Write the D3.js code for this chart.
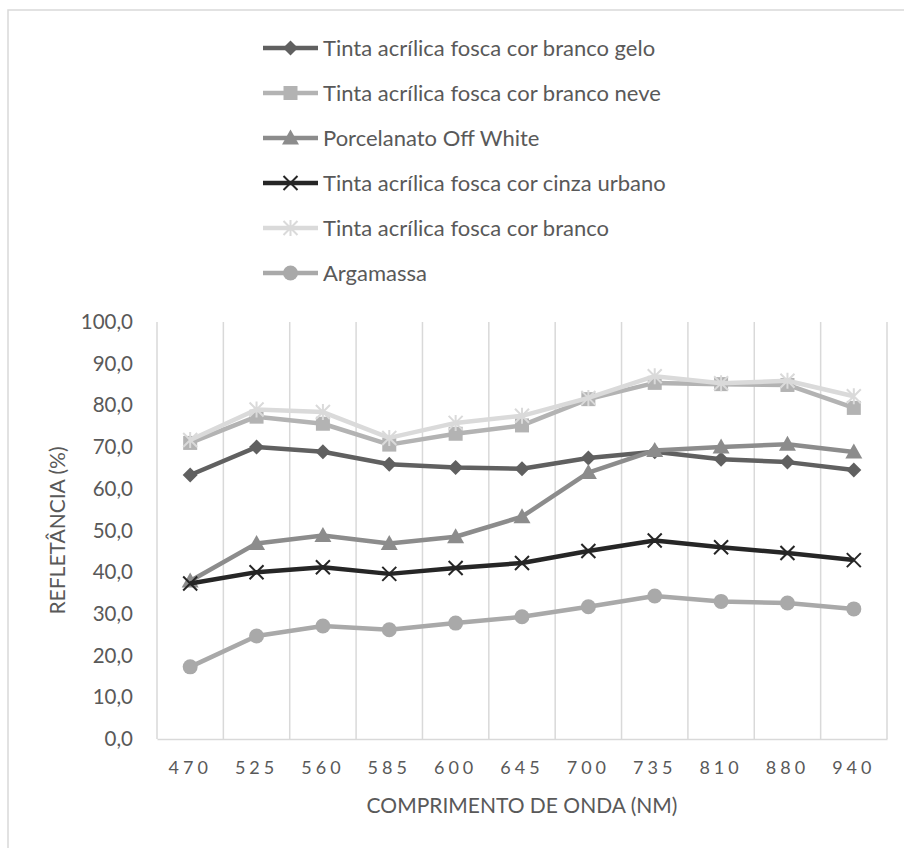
<!DOCTYPE html>
<html>
<head>
<meta charset="utf-8">
<script src="https://cdn.jsdelivr.net/npm/d3@7"></script>
<style>
  html, body { margin: 0; padding: 0; background: #fff; }
  svg { display: block; }
  text { font-family: Lato, "Open Sans", sans-serif; fill: #595959; }
</style>
</head>
<body>
<svg id="chart" width="904" height="848"></svg>
<script>
// Comprimentos de onda (nm)
const categories = ["470", "525", "560", "585", "600", "645", "700", "735", "810", "880", "940"];

// Refletância (%) por material
const brancoGelo   = [63.3, 70.0, 68.9, 65.9, 65.1, 64.8, 67.4, 68.9, 67.1, 66.4, 64.5];
const brancoNeve   = [71.0, 77.3, 75.6, 70.6, 73.2, 75.2, 81.5, 85.4, 85.1, 84.9, 79.4];
const porcelanato  = [37.9, 46.9, 48.8, 46.9, 48.5, 53.3, 63.9, 69.2, 70.0, 70.7, 68.8];
const cinzaUrbano  = [37.3, 40.0, 41.2, 39.6, 41.0, 42.2, 45.1, 47.6, 46.0, 44.6, 42.9];
const branco       = [71.7, 79.0, 78.4, 72.2, 75.8, 77.5, 81.8, 87.0, 85.3, 85.9, 82.2];
const argamassa    = [17.3, 24.7, 27.1, 26.2, 27.8, 29.3, 31.7, 34.3, 33.0, 32.6, 31.2];

const seriesNames = [
  "Tinta acrílica fosca cor branco gelo",
  "Tinta acrílica fosca cor branco neve",
  "Porcelanato Off White",
  "Tinta acrílica fosca cor cinza urbano",
  "Tinta acrílica fosca cor branco",
  "Argamassa"
];
const seriesValues = [brancoGelo, brancoNeve, porcelanato, cinzaUrbano, branco, argamassa];

const yTicks = [0, 10, 20, 30, 40, 50, 60, 70, 80, 90, 100];
const yTitle = "REFLETÂNCIA (%)";
const xTitle = "COMPRIMENTO DE ONDA (NM)";

// Aparência de cada série: cor e tipo de marcador
const styles = [
  { color: "#606060", marker: "diamond" },
  { color: "#b3b3b3", marker: "square" },
  { color: "#8c8c8c", marker: "triangle" },
  { color: "#262626", marker: "x" },
  { color: "#dadada", marker: "star" },
  { color: "#a9a9a9", marker: "circle" }
];

const svg = d3.select("#chart");

// Moldura da área do gráfico
svg.append("rect")
  .attr("x", 8).attr("y", 10)
  .attr("width", 920).attr("height", 860)
  .attr("fill", "#fff")
  .attr("stroke", "#d9d9d9").attr("stroke-width", 1.5);

const plot = { left: 157, right: 887, top: 322, bottom: 739 };

const x = d3.scaleBand().domain(categories).range([plot.left, plot.right]);
const y = d3.scaleLinear().domain([0, 100]).range([plot.bottom, plot.top]);

// Linhas de grade verticais nos limites das categorias
const gridX = categories.map(c => x(c)).concat([x.range()[1]]);
svg.append("g").selectAll("line").data(gridX).join("line")
  .attr("x1", d => d).attr("x2", d => d)
  .attr("y1", plot.top).attr("y2", plot.bottom)
  .attr("stroke", "#d9d9d9").attr("stroke-width", 1.5);

// Eixo X
const xAxis = svg.append("g")
  .attr("transform", `translate(0,${plot.bottom})`)
  .call(d3.axisBottom(x).tickSize(0).tickPadding(22));
xAxis.select(".domain").attr("stroke", "#d9d9d9").attr("stroke-width", 1.5);
xAxis.selectAll("text")
  .style("font-family", "Lato, sans-serif")
  .attr("font-size", 18)
  .attr("letter-spacing", 4)
  .attr("fill", "#595959");

// Eixo Y
const yAxis = svg.append("g")
  .attr("transform", `translate(${plot.left},0)`)
  .call(d3.axisLeft(y).tickValues(yTicks).tickSize(0).tickPadding(24)
    .tickFormat(d => d.toFixed(1).replace(".", ",")));
yAxis.select(".domain").remove();
yAxis.selectAll("text")
  .style("font-family", "Lato, sans-serif")
  .attr("font-size", 20.5)
  .attr("fill", "#595959");

// Títulos dos eixos
svg.append("text")
  .attr("transform", `translate(65,${(plot.top + plot.bottom) / 2}) rotate(-90)`)
  .attr("text-anchor", "middle")
  .attr("font-size", 21)
  .text(yTitle);

svg.append("text")
  .attr("x", (plot.left + plot.right) / 2)
  .attr("y", 813)
  .attr("text-anchor", "middle")
  .attr("font-size", 21)
  .text(xTitle);

// Desenho dos marcadores
function drawMarker(g, type, color, cx, cy) {
  const s = 7.5;
  if (type === "diamond") {
    g.append("path")
      .attr("d", `M${cx},${cy - s}L${cx + s},${cy}L${cx},${cy + s}L${cx - s},${cy}Z`)
      .attr("fill", color);
  } else if (type === "square") {
    g.append("rect")
      .attr("x", cx - 7).attr("y", cy - 7).attr("width", 14).attr("height", 14)
      .attr("fill", color);
  } else if (type === "triangle") {
    g.append("path")
      .attr("d", `M${cx},${cy - 8.5}L${cx + 8.5},${cy + 6.5}L${cx - 8.5},${cy + 6.5}Z`)
      .attr("fill", color);
  } else if (type === "circle") {
    g.append("circle").attr("cx", cx).attr("cy", cy).attr("r", 7.5).attr("fill", color);
  } else if (type === "x") {
    const r = 7;
    g.append("path")
      .attr("d", `M${cx - r},${cy - r}L${cx + r},${cy + r}M${cx - r},${cy + r}L${cx + r},${cy - r}`)
      .attr("stroke", color).attr("stroke-width", 2).attr("fill", "none");
  } else if (type === "star") {
    const r = 7;
    g.append("path")
      .attr("d", `M${cx - r},${cy - r}L${cx + r},${cy + r}M${cx - r},${cy + r}L${cx + r},${cy - r}M${cx},${cy - r - 1}L${cx},${cy + r + 1}`)
      .attr("stroke", color).attr("stroke-width", 2).attr("fill", "none");
  }
}

const line = d3.line()
  .x((d, i) => x(categories[i]) + x.bandwidth() / 2)
  .y(d => y(d));

// Séries: linha seguida dos marcadores
seriesValues.forEach((vals, k) => {
  const st = styles[k];
  const g = svg.append("g");
  g.append("path")
    .datum(vals)
    .attr("d", line)
    .attr("fill", "none")
    .attr("stroke", st.color)
    .attr("stroke-width", 4.5)
    .attr("stroke-linejoin", "round");
  vals.forEach((v, i) => {
    drawMarker(g, st.marker, st.color, x(categories[i]) + x.bandwidth() / 2, y(v));
  });
});

// Legenda
const legend = svg.append("g");
seriesNames.forEach((name, k) => {
  const st = styles[k];
  const cy = 48 + k * 45;
  const g = legend.append("g");
  g.append("line")
    .attr("x1", 263).attr("x2", 318).attr("y1", cy).attr("y2", cy)
    .attr("stroke", st.color).attr("stroke-width", 4.5);
  drawMarker(g, st.marker, st.color, 290.5, cy);
  g.append("text")
    .attr("x", 323).attr("y", cy)
    .attr("dy", "0.35em")
    .attr("font-size", 22)
    .text(name);
});
</script>
</body>
</html>
